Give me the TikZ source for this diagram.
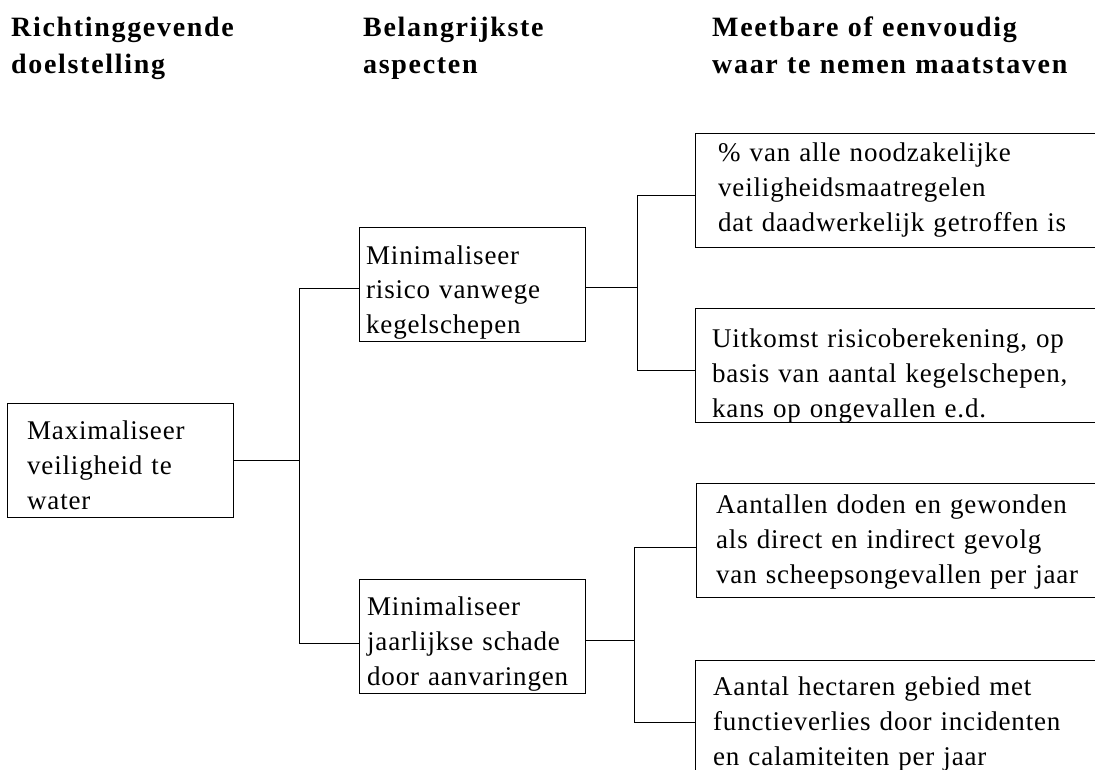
\documentclass[tikz,border=0pt]{standalone}
\usepackage{fontspec}
\setmainfont{Liberation Serif}
\newfontfamily\bodyfont[LetterSpace=3]{Liberation Serif}
\newfontfamily\headfont[LetterSpace=6]{Liberation Serif}
\usepackage{tikz}
\usetikzlibrary{positioning, calc}
\tikzstyle{box}=[%
      rectangle, draw=black, line width=1.3pt, fill=none,
      minimum width=226, minimum height=114, inner sep=0pt, anchor=north west
]
\tikzstyle{wide}=[%
      box, minimum width=420
]
\tikzstyle{txt}=[%
      anchor=base west, inner sep=0pt, align=left, text width=400,
      font=\bodyfont\fontsize{27}{35}\selectfont
]
\tikzstyle{head}=[%
      txt, font=\headfont\bfseries\fontsize{28}{37}\selectfont
]
\tikzstyle{link}=[line width=1.3pt]

\begin{document}
\begin{tikzpicture}[x=1pt, y=-1pt]
    \clip (0,0) rectangle (1095,770);

    % column headings
    \node[head] (h1) at (11,37)  {Richtinggevende\\doelstelling};
    \node[head] (h2) at (363,37) {Belangrijkste\\aspecten};
    \node[head] (h3) at (712,37) {Meetbare of eenvoudig\\waar te nemen maatstaven};

    % boxes
    \node[box]  (goal)    at (7,403)   {};
    \node[box]  (risk)    at (359,227) {};
    \node[box]  (damage)  at (359,579) {};
    \node[wide] (measure) at (695,133) {};
    \node[wide] (calc)    at (695,308) {};
    \node[wide] (victims) at (696,483) {};
    \node[wide] (area)    at (695,660) {};

    % box texts
    \node[txt] (goaltxt)    at (27,439)  {Maximaliseer\\veiligheid te\\water};
    \node[txt] (risktxt)    at (366,264) {Minimaliseer\\risico vanwege\\kegelschepen};
    \node[txt] (damagetxt)  at (367,615) {Minimaliseer\\jaarlijkse schade\\door aanvaringen};
    \node[txt] (measuretxt) at (718,162) {\% van alle noodzakelijke\\veiligheidsmaatregelen\\dat daadwerkelijk getroffen is};
    \node[txt] (calctxt)    at (712,347) {Uitkomst risicoberekening, op\\basis van aantal kegelschepen,\\kans op ongevallen e.d.};
    \node[txt] (victimstxt) at (716,513) {Aantallen doden en gewonden\\als direct en indirect gevolg\\van scheepsongevallen per jaar};
    \node[txt] (areatxt)    at (713,695) {Aantal hectaren gebied met\\functieverlies door incidenten\\en calamiteiten per jaar};

    % connectors
    \draw[link] (goal.east) -- ++(65,0) coordinate (fork1);
    \draw[link] ([yshift=-4pt]risk.west) -| (fork1) |- ([yshift=-7pt]damage.west);
    \draw[link] ([yshift=-3pt]risk.east) -- ++(51,0) coordinate (fork2);
    \draw[link] ([yshift=-5pt]measure.west) -| (fork2) |- ([yshift=-5pt]calc.west);
    \draw[link] ([yshift=-4pt]damage.east) -- ++(48,0) coordinate (fork3);
    \draw[link] ([yshift=-7pt]victims.west) -| (fork3) |- ([yshift=-5pt]area.west);
\end{tikzpicture}
\end{document}
